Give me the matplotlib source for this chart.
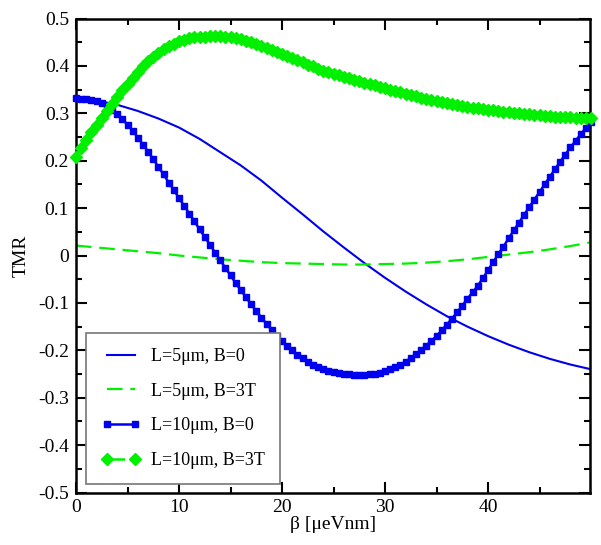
import numpy as np
import matplotlib
matplotlib.use('Agg')
import matplotlib.pyplot as plt
from matplotlib.ticker import MultipleLocator, FuncFormatter

# Serif fonts, plain hyphen minus like the original
matplotlib.rcParams['font.family'] = ['Liberation Serif', 'DejaVu Serif']
matplotlib.rcParams['axes.unicode_minus'] = False

# L=5um curves (step 2)
beta_coarse = [0, 2, 4, 6, 8, 10, 12, 14, 16, 18, 20, 22, 24, 26, 28, 30,
               32, 34, 36, 38, 40, 42, 44, 46, 48, 50]
tmr_l5_b0 = [0.332, 0.327, 0.318, 0.305, 0.289, 0.270, 0.246, 0.218, 0.190,
             0.158, 0.122, 0.087, 0.051, 0.017, -0.016, -0.047, -0.076,
             -0.103, -0.128, -0.150, -0.170, -0.188, -0.204, -0.218, -0.230,
             -0.240]
tmr_l5_b3 = [0.021, 0.017, 0.013, 0.009, 0.005, 0.000, -0.004, -0.008,
             -0.011, -0.014, -0.016, -0.017, -0.018, -0.019, -0.019, -0.018,
             -0.017, -0.015, -0.012, -0.008, -0.003, 0.002, 0.007, 0.013,
             0.020, 0.028]

# L=10um curves (with markers, step 0.5)
beta_fine = np.linspace(0, 50, 101)
tmr_l10_b0 = [0.332, 0.331, 0.330, 0.328, 0.325, 0.321, 0.315, 0.308, 0.299,
              0.288, 0.276, 0.263, 0.249, 0.234, 0.219, 0.203, 0.187, 0.171,
              0.154, 0.138, 0.121, 0.105, 0.088, 0.072, 0.055, 0.039, 0.023,
              0.006, -0.010, -0.026, -0.042, -0.058, -0.073, -0.088, -0.103,
              -0.117, -0.131, -0.144, -0.157, -0.169, -0.180, -0.190, -0.200,
              -0.209, -0.217, -0.224, -0.230, -0.235, -0.240, -0.243, -0.246,
              -0.248, -0.250, -0.251, -0.252, -0.252, -0.252, -0.251, -0.249,
              -0.247, -0.244, -0.240, -0.236, -0.230, -0.224, -0.216, -0.208,
              -0.199, -0.190, -0.180, -0.170, -0.158, -0.146, -0.133, -0.120,
              -0.106, -0.091, -0.078, -0.064, -0.048, -0.031, -0.014, 0.003,
              0.019, 0.036, 0.053, 0.069, 0.086, 0.102, 0.118, 0.134, 0.150,
              0.166, 0.182, 0.198, 0.213, 0.228, 0.242, 0.256, 0.269, 0.282]
tmr_l10_b3 = [0.208, 0.226, 0.243, 0.260, 0.276, 0.291, 0.305, 0.320, 0.335,
              0.349, 0.362, 0.375, 0.388, 0.399, 0.410, 0.419, 0.428, 0.435,
              0.442, 0.447, 0.452, 0.455, 0.458, 0.460, 0.461, 0.462, 0.463,
              0.463, 0.463, 0.462, 0.460, 0.458, 0.456, 0.453, 0.450, 0.446,
              0.442, 0.438, 0.434, 0.430, 0.426, 0.421, 0.417, 0.412, 0.408,
              0.403, 0.399, 0.394, 0.390, 0.387, 0.383, 0.380, 0.377, 0.374,
              0.371, 0.368, 0.365, 0.362, 0.359, 0.356, 0.353, 0.350, 0.347,
              0.344, 0.341, 0.338, 0.336, 0.333, 0.331, 0.328, 0.326, 0.324,
              0.322, 0.320, 0.318, 0.316, 0.314, 0.312, 0.311, 0.309, 0.308,
              0.306, 0.305, 0.303, 0.302, 0.301, 0.300, 0.299, 0.298, 0.297,
              0.296, 0.295, 0.294, 0.293, 0.293, 0.292, 0.292, 0.291, 0.291,
              0.290, 0.290]

labels = ['L=5μm, B=0', 'L=5μm, B=3T', 'L=10μm, B=0', 'L=10μm, B=3T']

blue = '#0000ee'
green = '#00f000'

fig = plt.figure(figsize=(6.01, 5.45), dpi=100)
ax = fig.add_axes([0.1265, 0.0963, 0.9817 - 0.1265, 0.966 - 0.0963])

ax.plot(beta_coarse, tmr_l5_b0, color=blue, lw=1.5, label=labels[0])
ax.plot(beta_coarse, tmr_l5_b3, color=green, lw=1.6, dashes=(7, 3.5),
        label=labels[1])
ax.plot(beta_fine, tmr_l10_b0, color=blue, lw=1.8, marker='s', ms=4.5,
        label=labels[2], clip_on=False, zorder=3)
ax.plot(beta_fine, tmr_l10_b3, color=green, lw=1.8, dashes=(7, 3.5),
        marker='D', ms=6.5, label=labels[3], clip_on=False, zorder=3)

ax.set_xlim(0, 49.9)
ax.set_ylim(-0.5, 0.5)
ax.xaxis.set_major_locator(MultipleLocator(10))
ax.xaxis.set_minor_locator(MultipleLocator(5))
ax.yaxis.set_major_locator(MultipleLocator(0.1))
ax.yaxis.set_minor_locator(MultipleLocator(0.05))
ax.yaxis.set_major_formatter(FuncFormatter(lambda v, p: '%g' % round(v, 2)))

ax.tick_params(which='both', direction='in', top=True, right=True,
               width=1.5, labelsize=14, pad=5)
ax.tick_params(which='major', length=8)
ax.tick_params(which='minor', length=4.5)
for s in ax.spines.values():
    s.set_linewidth(1.8)

ax.set_xlabel('β [μeVnm]', fontsize=14, labelpad=0)
ax.set_ylabel('TMR', fontsize=14, labelpad=6)

leg = ax.legend(loc='lower left', bbox_to_anchor=(0.019, 0.017),
                fontsize=13, numpoints=2, handlelength=2.2,
                handletextpad=0.55, labelspacing=0.98, borderpad=0.85,
                fancybox=False, framealpha=1, edgecolor='#777777',
                borderaxespad=0)
leg.get_frame().set_linewidth(1.2)

fig.savefig('out.png', dpi=100)
